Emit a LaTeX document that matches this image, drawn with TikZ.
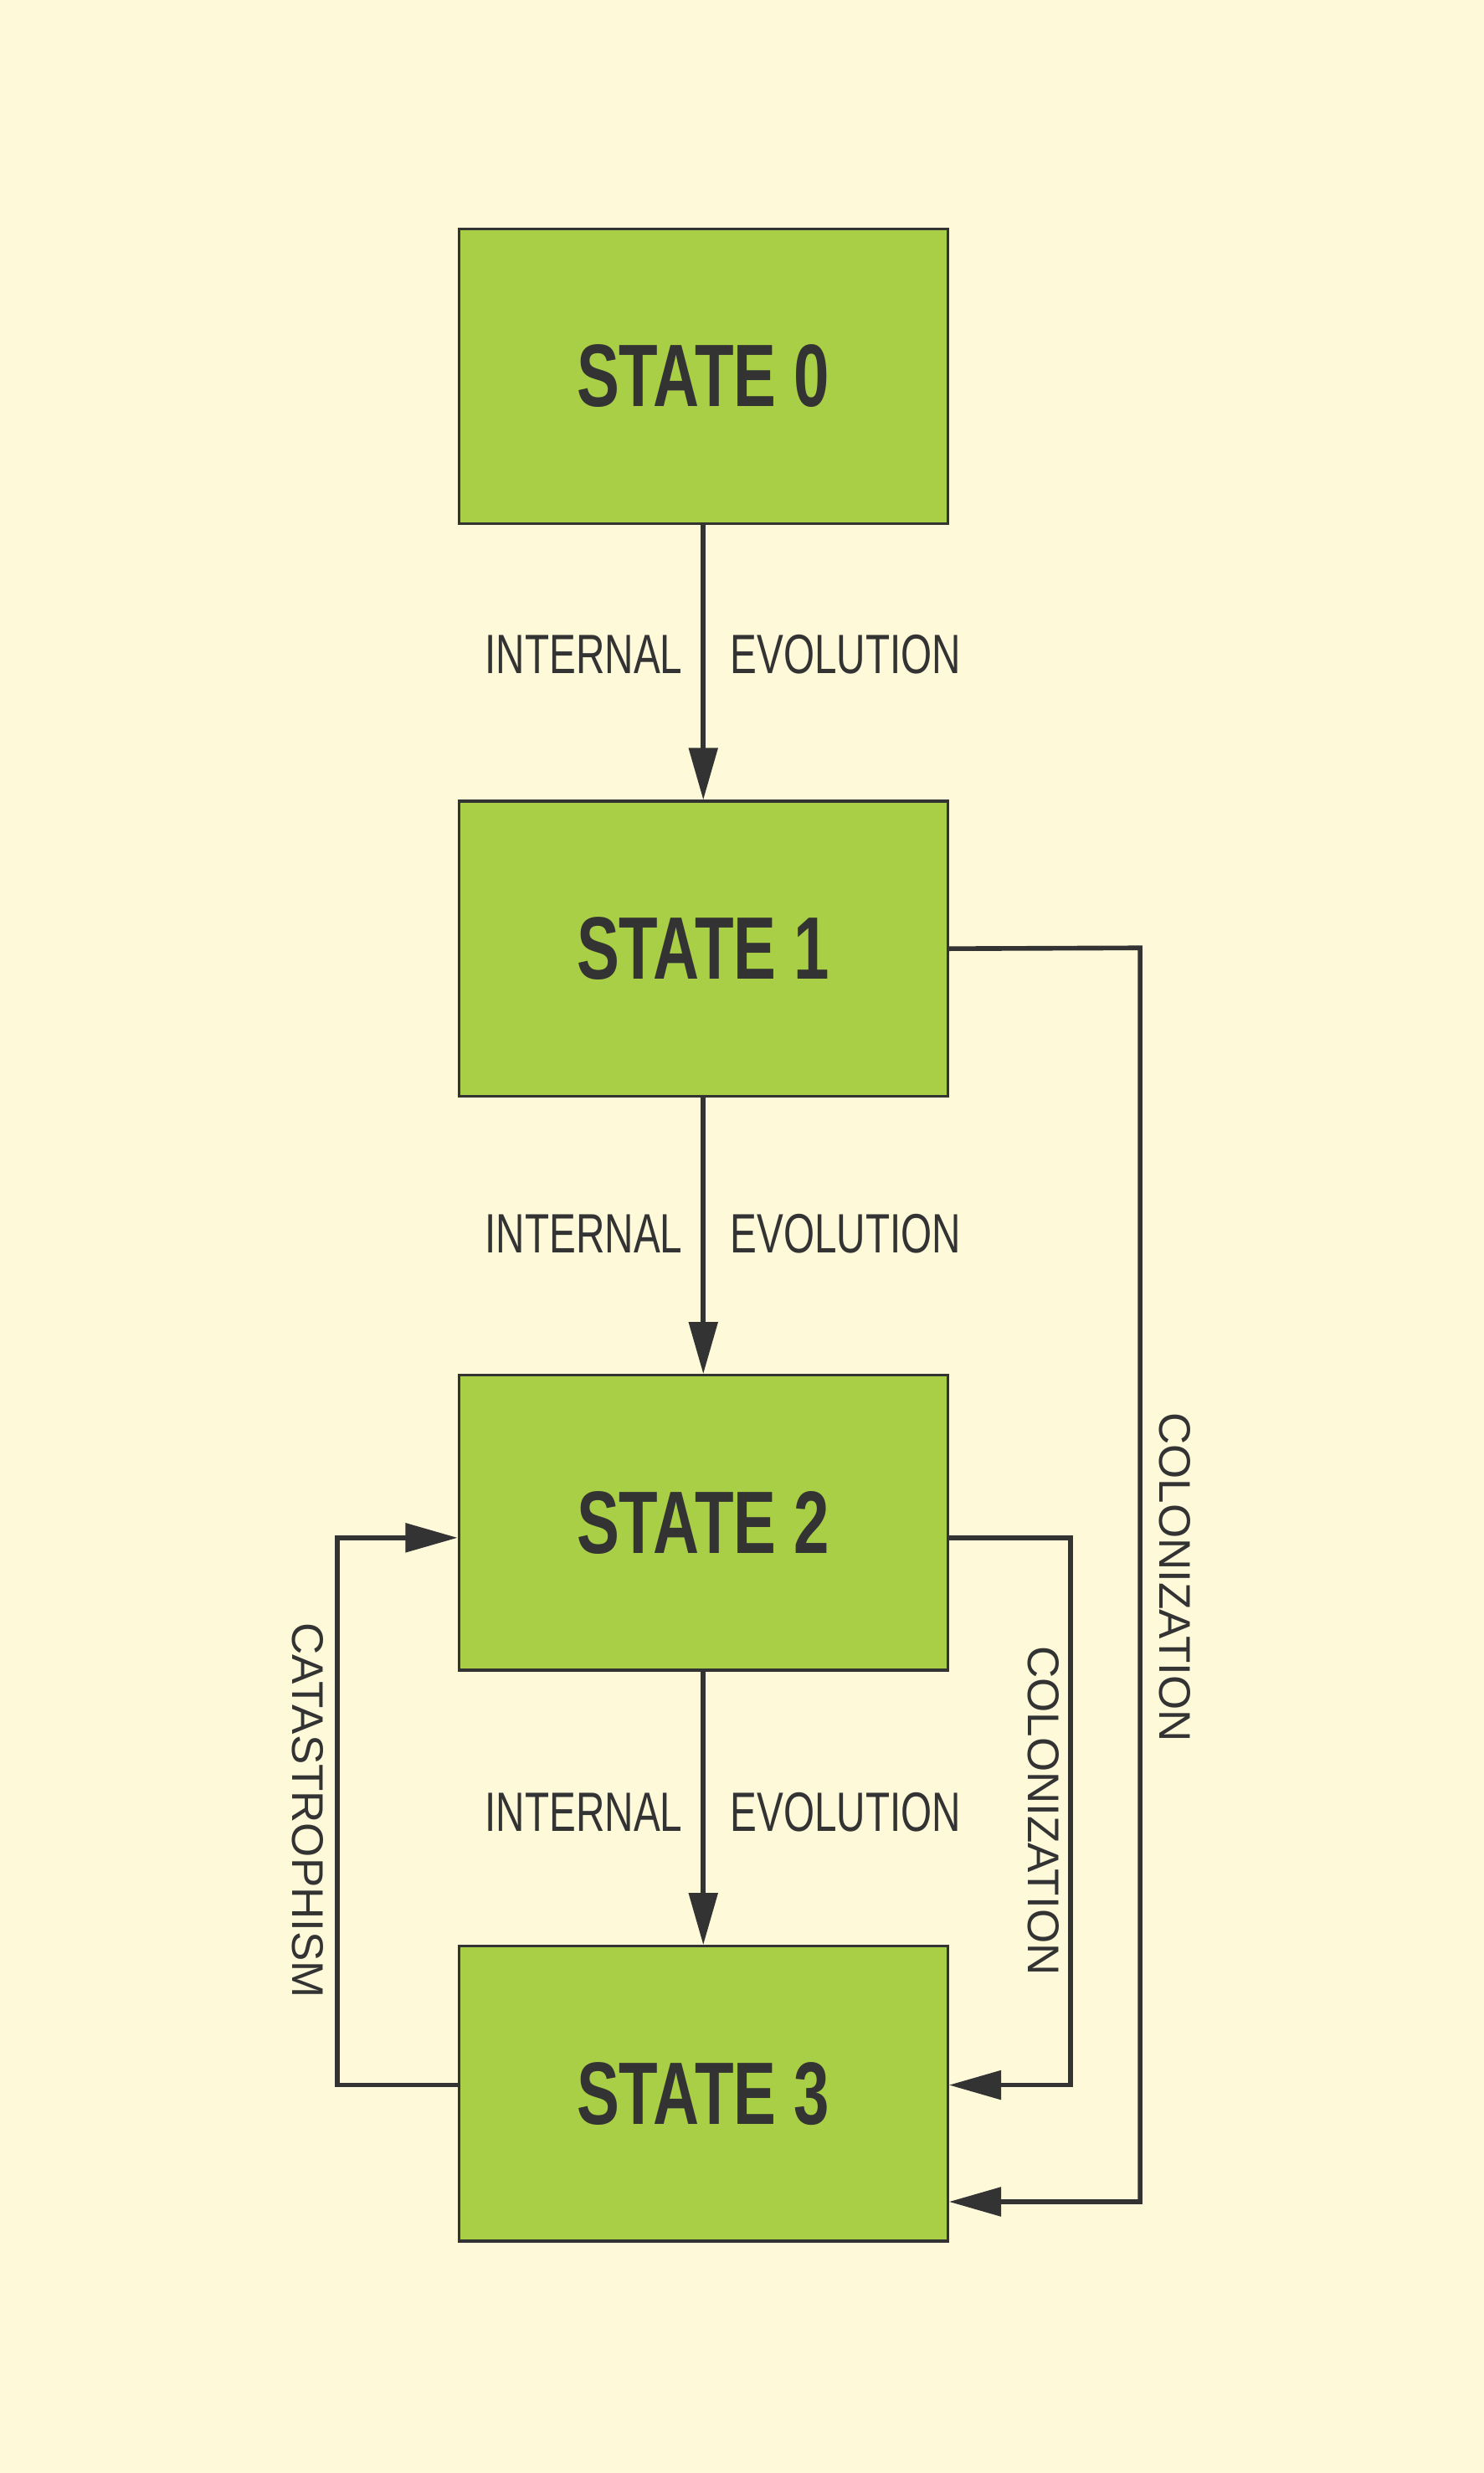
\documentclass[tikz,border=0pt]{standalone}
\usepackage{fontspec}
\setmainfont{Liberation Sans}
\newfontfamily\condb[FakeStretch=0.72]{Liberation Sans Bold}
\newfontfamily\condl[FakeStretch=0.72]{Liberation Sans}
\usetikzlibrary{arrows.meta}
\definecolor{bgc}{HTML}{FEF9D8}
\definecolor{boxc}{HTML}{A9CF46}
\definecolor{ink}{HTML}{333333}
\begin{document}
\begin{tikzpicture}[x=0.02cm,y=-0.02cm,
  statebox/.style={draw=ink,line width=1pt,fill=boxc,minimum width=6.2cm,minimum height=3.74cm,font=\condb\fontsize{32}{32}\selectfont,text=ink},
  conn/.style={draw=ink,line width=1.7pt,-{Triangle[length=0.66cm,width=0.36cm]}},
  lab/.style={text=ink,font=\condl\fontsize{20}{20}\selectfont},
  vlab/.style={text=ink,font=\fontsize{16}{16}\selectfont,rotate=-90}]
\fill[bgc] (0,0) rectangle (941,1568);
\useasboundingbox (0,0) rectangle (941,1568);
\node[statebox] (s0) at (446,238.5) {STATE 0};
\node[statebox] (s1) at (446,601.5) {STATE 1};
\node[statebox] (s2) at (446,965.5) {STATE 2};
\node[statebox] (s3) at (446,1327.5) {STATE 3};
\draw[conn] (s0) -- (s1);
\draw[conn] (s1) -- (s2);
\draw[conn] (s2) -- (s3);
\foreach \y in {415,782,1149}{
  \node[lab,anchor=east] (il\y) at (439,\y) {INTERNAL};
  \node[lab,anchor=west] (ir\y) at (457,\y) {EVOLUTION};
}
\coordinate (a1) at (723,601); \coordinate (a2) at (723,1396);
\draw[conn] (s1.east) -- (a1) -- (a2) -- (s3.east |- a2);
\coordinate (b1) at (679,975); \coordinate (b2) at (679,1322);
\draw[conn] (s2.east |- b1) -- (b1) -- (b2) -- (s3.east |- b2);
\coordinate (c1) at (214,1322); \coordinate (c2) at (214,975);
\draw[conn] (s3.west |- c1) -- (c1) -- (c2) -- (s2.west |- c2);
\node[vlab] (l1) at (745,1000) {COLONIZATION};
\node[vlab] (l2) at (662,1148) {COLONIZATION};
\node[vlab] (l3) at (195,1148) {CATASTROPHISM};
\end{tikzpicture}
\end{document}
